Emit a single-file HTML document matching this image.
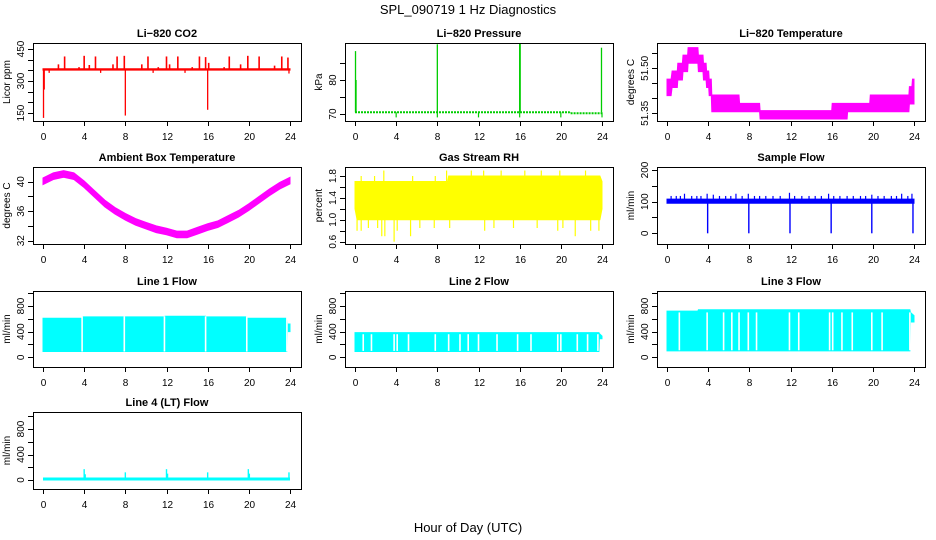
<!DOCTYPE html>
<html><head><meta charset="utf-8">
<style>
html,body{margin:0;padding:0;background:#fff;}
svg{display:block;font-family:"Liberation Sans",Arial,sans-serif;}
</style></head>
<body>
<svg id="chart" width="936" height="540" viewBox="0 0 936 540" xmlns="http://www.w3.org/2000/svg">
<rect width="936" height="540" fill="#fff"/>
<text x="468" y="14" text-anchor="middle" font-size="13">SPL_090719  1 Hz Diagnostics</text>
<text x="468" y="532" text-anchor="middle" font-size="13">Hour of Day (UTC)</text>
</svg>
<script>
// ---------- data ----------
const xTickLabels = [0,4,8,12,16,20,24];
// CO2
const co2BandHours = [0,24];
const co2Low = [351,351];
const co2High = [357,357];
const co2SpikeHours = [2.1,4.0,5.1,7.2,7.9,10.2,12.0,13.1,15.2,15.8,18.1,19.9,21.0,23.2,23.8,1.5,4.5,6.8,9.6,12.3,16.1,19.2,22.5,3.5,14.5,17.6,11.2];
const co2SpikeVals = [415,418,415,415,418,415,415,415,415,412,415,418,415,415,410,378,375,378,378,378,385,378,372,365,365,365,365];
const co2DipHours = [0.05,0.12,8.0,16.0,0.6,5.6,10.7,13.8,23.9];
const co2DipVals = [127,260,138,165,338,338,338,338,335];
// Pressure
const presHours = [0,20.8,20.9,24];
const presVals = [70.5,70.5,70.2,70.2];
const presSpikeHours = [0.05,0.1,8.0,16.0,16.05,23.95];
const presSpikeVals = [88.5,80,90.5,91.5,91,89.5];
const presDipHours = [4,8,12,16,20,24];
const presDipVals = [69,69,69,69,69,69];
// Li-820 temperature
const tempHours = [0,0.4,0.5,1.0,1.05,1.5,1.55,2.0,2.05,3.0,3.05,3.5,3.55,3.8,3.85,4.05,4.1,4.3,4.35,7.0,7.05,9.0,9.05,16.0,16.05,17.5,17.55,19.7,19.75,23.5,23.55,23.8,23.85,24];
const tempLow = [51.409,51.409,51.436,51.436,51.461,51.461,51.489,51.489,51.517,51.517,51.489,51.489,51.461,51.461,51.436,51.436,51.409,51.409,51.355,51.355,51.355,51.355,51.331,51.331,51.331,51.331,51.355,51.355,51.355,51.355,51.381,51.381,51.381,51.381];
const tempHigh = [51.464,51.464,51.491,51.491,51.517,51.517,51.544,51.544,51.569,51.569,51.544,51.544,51.517,51.517,51.491,51.491,51.464,51.464,51.411,51.411,51.383,51.383,51.359,51.359,51.383,51.383,51.383,51.383,51.411,51.411,51.439,51.439,51.464,51.464];
// Ambient box temperature
const ambHours = [0,1,2,3,4,5,6,7,8,9,10,11,12,13,14,15,16,17,18,19,20,21,22,23,24];
const ambVals = [40.1,40.8,41.1,40.8,39.7,38.4,37.1,36.1,35.3,34.6,34.1,33.6,33.3,32.9,32.9,33.4,33.9,34.3,35.0,35.7,36.6,37.6,38.6,39.5,40.2];
// Gas stream RH
const rhHours = [0,0.2,9,9.1,23.8,24];
const rhLow = [1.2,1.0,1.0,1.0,1.0,1.2];
const rhHigh = [1.7,1.7,1.7,1.8,1.8,1.7];
const rhDipHours = [0.2,0.6,1.3,2.2,2.6,2.9,3.8,4.1,5.4,6.3,7.7,9.2,12.6,13.5,15.4,17.7,19.7,20.2,21.4,22.9,23.7];
const rhDipVals = [0.8,0.8,0.85,0.85,0.7,0.7,0.6,0.8,0.7,0.85,0.85,0.85,0.8,0.85,0.85,0.85,0.8,0.85,0.7,0.8,0.8];
const rhPeakHours = [0.6,1.9,2.8,5.6,7.8,8.9,11.3,12.5,14.2,16.5,18.1,19.9,22.4];
const rhPeakVals = [1.8,1.8,1.9,1.8,1.8,1.9,1.9,1.9,1.9,1.9,1.9,1.9,1.9];
// Sample flow
const sfBandHours = [0,24];
const sfLow = [95,95];
const sfHigh = [108,108];
const sfSpikeHours = [0.4,0.9,1.3,1.7,2.4,2.9,3.3,3.9,4.5,5.1,5.7,6.2,6.7,7.3,7.9,8.5,9.0,9.6,10.3,11.0,11.9,12.4,13.1,13.8,14.4,15.0,15.7,16.2,16.8,17.5,18.1,18.8,19.3,19.9,20.5,21.1,21.8,22.3,22.8,23.4,23.8];
const sfSpikeVals = [118,118,118,125,118,118,118,125,122,118,118,118,125,118,125,118,118,118,118,118,128,118,118,118,118,118,125,118,118,118,118,118,118,122,118,118,118,118,125,118,125];
const sfDipHours = [3.95,7.95,11.95,15.95,19.9,23.9];
const sfDipVals = [0,0,0,0,0,0];
// Line flows
const l1Hours = [0,3.8,3.85,11.8,11.85,15.8,15.85,19.8,19.85,23.7,23.75,24];
const l1Low = [90,90,90,90,90,90,90,90,90,90,400,400];
const l1High = [610,610,630,630,640,640,630,630,610,610,520,520];
const l1GapHours = [3.8,7.9,11.8,15.8,19.8,23.7];
const l2Hours = [0,23.7,23.75,24];
const l2Low = [90,90,290,290];
const l2High = [385,385,370,330];
const l2GapHours = [0.8,1.6,3.8,4.1,5.2,7.8,9.1,10.2,11.0,12.0,13.8,15.8,17.1,19.7,20.0,21.6,22.6,23.6];
const l3Hours = [0,3.0,3.05,23.6,23.65,24];
const l3Low = [100,100,100,100,550,550];
const l3High = [720,720,740,740,700,650];
const l3GapHours = [1.2,3.9,5.5,6.3,7.0,7.9,8.7,11.9,12.8,15.8,16.1,17.0,18.0,19.9,20.9,23.6];
const l4Hours = [0,24];
const l4Vals = [15,15];
const l4SpikeHours = [4.0,8.0,12.0,16.0,19.95,23.9,5.5,4.1,12.1,20.05];
const l4SpikeVals = [170,120,170,120,170,120,35,90,100,100];

// ---------- layout ----------
const svg = document.getElementById('chart');
const NS = 'http://www.w3.org/2000/svg';
const rowTop = [43,167,291,412];
const rowBot = [121,244,367,489];
function mk(tag, attrs, parent){
  const e = document.createElementNS(NS, tag);
  for (const k in attrs) e.setAttribute(k, attrs[k]);
  (parent||svg).appendChild(e);
  return e;
}
function panel(id, col, row, title, ylab, v1, p1, v2, p2, ticks, labels){
  const bx = 33 + 312*col, bw = 268, by = rowTop[row], bh = rowBot[row]-rowTop[row];
  const g = mk('g', {});
  
  
  const xs = h => 43 + 312*col + h*(247/24);
  const ys = v => p1 + (v - v1)*(p2 - p1)/(v2 - v1);
  const cp = mk('clipPath', {id: 'cp-' + id}, g);
  mk('rect', {x: bx, y: by, width: bw, height: bh}, cp);
  const plot = mk('g', {'clip-path': 'url(#cp-' + id + ')'}, g);
  
  
  const box = mk('rect', {x: bx+0.5, y: by+0.5, width: bw, height: bh, fill: 'none', stroke: '#000', 'stroke-width': 1}, g);
  
  
  const t = mk('text', {x: bx + bw/2, y: by - 6, 'text-anchor': 'middle', 'font-size': 11, 'font-weight': 'bold'}, g);
  t.textContent = title;
  
  
  xTickLabels.forEach(h => {
    const x = Math.round(xs(h)) + 0.5;
    mk('line', {x1: x, x2: x, y1: by + bh, y2: by + bh + 5, stroke: '#000'}, g);
    const tl = mk('text', {x: x, y: by + bh + 19, 'text-anchor': 'middle', 'font-size': 10}, g);
    tl.textContent = h;
    
    
  });
  ticks.forEach(v => {
    const y = Math.round(ys(v)) + 0.5;
    mk('line', {x1: bx - 5, x2: bx, y1: y, y2: y, stroke: '#000'}, g);
  });
  labels.forEach(v => {
    const y = ys(v);
    const tl = mk('text', {x: bx - 9, y: y, 'text-anchor': 'middle', 'font-size': 10, transform: 'rotate(-90 ' + (bx - 9) + ' ' + y + ')'}, g);
    tl.textContent = v;
    
    
  });
  const yl = mk('text', {x: bx - 23, y: by + bh/2, 'text-anchor': 'middle', 'font-size': 10, transform: 'rotate(-90 ' + (bx - 23) + ' ' + (by + bh/2) + ')'}, g);
  yl.textContent = ylab;
  
  
  return {plot, xs, ys, id};
}
function band(P, hours, low, high, color, name){
  let pts = hours.map((h,i) => P.xs(h).toFixed(1) + ',' + P.ys(high[i]).toFixed(1));
  for (let i = hours.length - 1; i >= 0; i--) pts.push(P.xs(hours[i]).toFixed(1) + ',' + P.ys(low[i]).toFixed(1));
  const e = mk('polygon', {points: pts.join(' '), fill: color, stroke: color, 'stroke-width': 1}, P.plot);
  
  
}
function line(P, hours, vals, color, w, name, dash){
  const e = mk('polyline', {points: hours.map((h,i) => P.xs(h).toFixed(1) + ',' + P.ys(vals[i]).toFixed(1)).join(' '), fill: 'none', stroke: color, 'stroke-width': w}, P.plot);
  if (dash) e.setAttribute('stroke-dasharray', dash);
  
  
}
function spikes(P, hours, base, vals, color, w, name){
  hours.forEach((h,i) => {
    const x = P.xs(h);
    const e = mk('line', {x1: x, x2: x, y1: P.ys(base), y2: P.ys(vals[i]), stroke: color, 'stroke-width': w}, P.plot);
    
    
  });
}
function gaps(P, hours, lo, hi, name){
  hours.forEach(h => {
    const x = P.xs(h);
    const e = mk('line', {x1: x, x2: x, y1: P.ys(lo), y2: P.ys(hi), stroke: '#fff', 'stroke-width': 1.6}, P.plot);
    
    
  });
}
const RED = '#ff0000', GREEN = '#00cd00', MAG = '#ff00ff', YEL = '#ffff00', BLUE = '#0000ff', CYAN = '#00ffff';

let P = panel('co2', 0, 0, 'Li\u2212820 CO2', 'Licor ppm', 150, 113, 450, 49, [150,200,250,300,350,400,450], [150,300,450]);
band(P, co2BandHours, co2Low, co2High, RED, 'co2-baseline');
spikes(P, co2SpikeHours, 354, co2SpikeVals, RED, 1.6, 'co2-spike');
spikes(P, co2DipHours, 354, co2DipVals, RED, 1.3, 'co2-dip');

P = panel('pressure', 1, 0, 'Li\u2212820 Pressure', 'kPa', 70, 114, 80, 80, [70,75,80,85], [70,80]);
line(P, presHours, presVals, GREEN, 2, 'pressure-line', '2,1');
spikes(P, presSpikeHours, 70.5, presSpikeVals, GREEN, 1.3, 'pressure-spike');
spikes(P, presDipHours, 70.5, presDipVals, GREEN, 1.2, 'pressure-dip');

P = panel('li820-temp', 2, 0, 'Li\u2212820 Temperature', 'degrees C', 51.35, 113.3, 51.50, 68.3, [51.35,51.40,51.45,51.50,51.55], ['51.35','51.50']);
band(P, tempHours, tempLow, tempHigh, MAG, 'li820-temp-band');

P = panel('ambient', 0, 1, 'Ambient Box Temperature', 'degrees C', 32, 240.7, 40, 181.7, [32,34,36,38,40], [32,36,40]);
band(P, ambHours, ambVals.map(v => v - 0.5), ambVals.map(v => v + 0.4), MAG, 'ambient-temp-band');

P = panel('rh', 1, 1, 'Gas Stream RH', 'percent', 0.6, 241.7, 1.8, 176, [0.6,0.8,1.0,1.2,1.4,1.6,1.8], ['0.6','1.0','1.4','1.8']);
band(P, rhHours, rhLow, rhHigh, YEL, 'rh-band');
spikes(P, rhDipHours, 1.2, rhDipVals, YEL, 1.2, 'rh-dip');
spikes(P, rhPeakHours, 1.6, rhPeakVals, YEL, 1.2, 'rh-peak');

P = panel('sample-flow', 2, 1, 'Sample Flow', 'ml/min', 0, 233.3, 200, 170, [0,50,100,150,200], [0,100,200]);
band(P, sfBandHours, sfLow, sfHigh, BLUE, 'sample-flow-band');
spikes(P, sfSpikeHours, 100, sfSpikeVals, BLUE, 1.2, 'sample-flow-spike');
spikes(P, sfDipHours, 100, sfDipVals, BLUE, 1.4, 'sample-flow-dip');

P = panel('line1', 0, 2, 'Line 1 Flow', 'ml/min', 0, 357.3, 800, 306, [0,200,400,600,800,1000], [0,400,800]);
band(P, l1Hours, l1Low, l1High, CYAN, 'line1-band');
gaps(P, l1GapHours, 90, 640, 'line1-gap');

P = panel('line2', 1, 2, 'Line 2 Flow', 'ml/min', 0, 357.3, 800, 306, [0,200,400,600,800,1000], [0,400,800]);
band(P, l2Hours, l2Low, l2High, CYAN, 'line2-band');
gaps(P, l2GapHours, 100, 360, 'line2-gap');

P = panel('line3', 2, 2, 'Line 3 Flow', 'ml/min', 0, 357.3, 800, 306, [0,200,400,600,800,1000], [0,400,800]);
band(P, l3Hours, l3Low, l3High, CYAN, 'line3-band');
gaps(P, l3GapHours, 110, 700, 'line3-gap');

P = panel('line4', 0, 3, 'Line 4 (LT) Flow', 'ml/min', 0, 480, 800, 429, [0,200,400,600,800,1000], [0,400,800]);
line(P, l4Hours, l4Vals, CYAN, 3, 'line4-line');
spikes(P, l4SpikeHours, 15, l4SpikeVals, CYAN, 1.4, 'line4-spike');
</script>
</body></html>
